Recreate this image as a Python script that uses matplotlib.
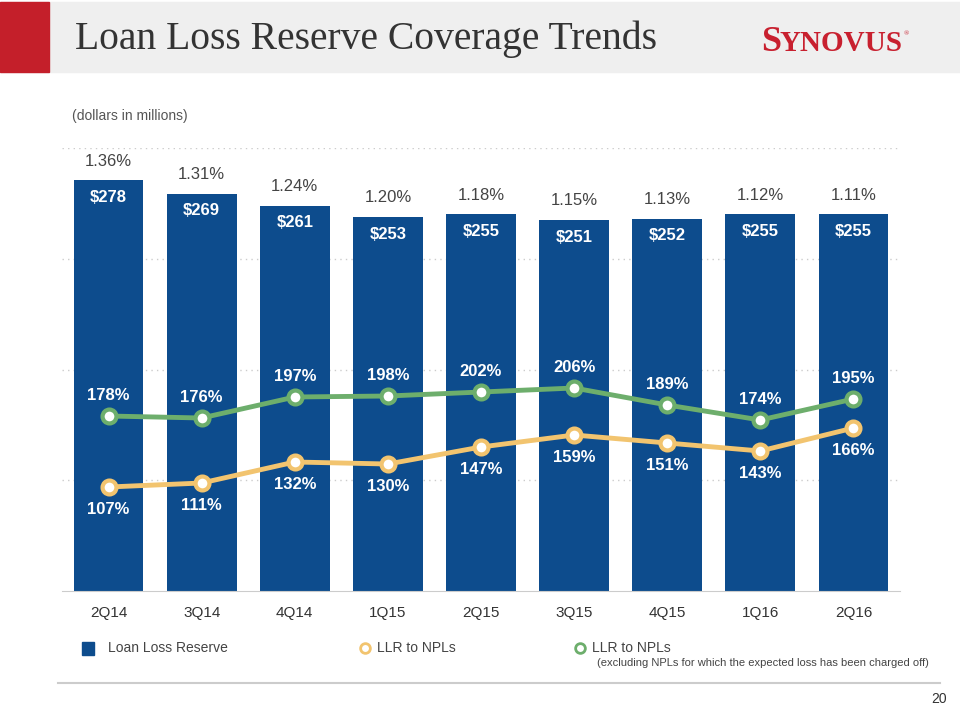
import matplotlib.pyplot as plt
from matplotlib.patches import Rectangle
from matplotlib.lines import Line2D

quarters = ["2Q14", "3Q14", "4Q14", "1Q15", "2Q15", "3Q15", "4Q15", "1Q16", "2Q16"]
reserve = [278, 269, 261, 253, 255, 251, 252, 255, 255]
reserve_pct = [1.36, 1.31, 1.24, 1.20, 1.18, 1.15, 1.13, 1.12, 1.11]
llr_npl = [107, 111, 132, 130, 147, 159, 151, 143, 166]
llr_npl_excl = [178, 176, 197, 198, 202, 206, 189, 174, 195]

blue = "#0D4C8D"
yellow = "#F2C46F"
green = "#6DAE6C"
grey_txt = "#444444"

plt.rcParams["font.family"] = ["Liberation Sans", "DejaVu Sans"]

W, H = 960, 720
fig = plt.figure(figsize=(9.6, 7.2), dpi=100)

def fx(px):
    return px / W

def fy(py):
    return 1 - py / H

# header band
fig.add_artist(Rectangle((0, fy(72)), 1, 70 / H, transform=fig.transFigure,
                         color="#efefef", zorder=0))
fig.add_artist(Rectangle((0, fy(72)), fx(49), 70 / H, transform=fig.transFigure,
                         color="#c41f2a", zorder=1))
fig.text(fx(75), fy(39), "Loan Loss Reserve Coverage Trends", family="Liberation Serif",
         fontsize=28.5, color="#333333", va="center", ha="left")

# logo: big S + smaller caps for the rest
logo_rest = fig.text(fx(903), fy(51), "YNOVUS", family="Liberation Serif", fontsize=21,
                     color="#c8202f", va="baseline", ha="right", fontweight="bold")
fig.text(fx(904), fy(35), "\u00ae", family="Liberation Serif", fontsize=5,
         color="#c8202f", va="baseline", ha="left")
fig.canvas.draw()
bb = logo_rest.get_window_extent()
fig.text(bb.x0 / W + 0.001, fy(51), "S", family="Liberation Serif", fontsize=26,
         color="#c8202f", va="baseline", ha="right", fontweight="bold")

fig.text(fx(72), fy(116), "(dollars in millions)", fontsize=10, color="#555555",
         va="center")

# main chart
ax = fig.add_axes([fx(62), fy(591), fx(900) - fx(62), (591 - 148) / H])
x = list(range(len(quarters)))
ax.bar(x, reserve, width=0.75, color=blue, zorder=2)
ax.set_xlim(-0.5, 8.5)
ax.set_ylim(0, 300)
ax.set_yticks([75, 150, 225, 300])
ax.yaxis.grid(True, linestyle=(0, (1, 3)), color="#cccccc", linewidth=1)
ax.set_axisbelow(True)
ax.set_xticks(x)
ax.set_xticklabels(quarters)
for s in ["left", "right", "top"]:
    ax.spines[s].set_visible(False)
ax.spines["bottom"].set_color("#cccccc")

for i, v in enumerate(reserve):
    ax.annotate("$%d" % v, (i, v), xytext=(0, -12), textcoords="offset points",
                ha="center", va="center", color="white", fontsize=12, fontweight="bold")
    ax.annotate("%.2f%%" % reserve_pct[i], (i, v), xytext=(0, 14), textcoords="offset points",
                ha="center", va="center", color=grey_txt, fontsize=12)

ax2 = ax.twinx()
ax2.set_ylim(3, 446)
ax2.axis("off")
ax.tick_params(axis="y", left=False, right=False, labelleft=False, labelright=False)
ax.tick_params(axis="x", bottom=False, labelsize=11, labelcolor="#333333", pad=7)

ax2.plot(x, llr_npl, color=yellow, linewidth=3.5, marker="o", markersize=10,
         markerfacecolor="white", markeredgecolor=yellow, markeredgewidth=3, zorder=3)
ax2.plot(x, llr_npl_excl, color=green, linewidth=3.5, marker="o", markersize=10,
         markerfacecolor="white", markeredgecolor=green, markeredgewidth=3, zorder=3)
for i in x:
    ax2.annotate("%d%%" % llr_npl[i], (i, llr_npl[i]), xytext=(0, -16), textcoords="offset points",
                 ha="center", va="center", color="white", fontsize=12, fontweight="bold")
    ax2.annotate("%d%%" % llr_npl_excl[i], (i, llr_npl_excl[i]), xytext=(0, 15),
                 textcoords="offset points", ha="center", va="center", color="white",
                 fontsize=12, fontweight="bold")

# legend
fig.add_artist(Rectangle((fx(82), fy(655)), fx(12), 13 / H, transform=fig.transFigure,
                         color=blue))
fig.text(fx(108), fy(648), "Loan Loss Reserve", fontsize=10, color=grey_txt, va="center")
fig.add_artist(Line2D([fx(365)], [fy(648)], transform=fig.transFigure, marker="o",
                      markersize=7, markerfacecolor="white", markeredgecolor=yellow,
                      markeredgewidth=2, linestyle="none"))
fig.text(fx(377), fy(648), "LLR to NPLs", fontsize=10, color=grey_txt, va="center")
fig.add_artist(Line2D([fx(580)], [fy(648)], transform=fig.transFigure, marker="o",
                      markersize=7, markerfacecolor="white", markeredgecolor=green,
                      markeredgewidth=2, linestyle="none"))
fig.text(fx(592), fy(648), "LLR to NPLs", fontsize=10, color=grey_txt, va="center")
fig.text(fx(597), fy(663),
         "(excluding NPLs for which the expected loss has been charged off)",
         fontsize=8, color=grey_txt, va="center")

fig.add_artist(Line2D([fx(58), fx(940)], [fy(683), fy(683)], transform=fig.transFigure,
                      color="#cccccc", linewidth=1.5))
fig.text(fx(947), fy(699), "20", fontsize=10, color="#333333", ha="right", va="center")

fig.savefig("out.png", dpi=100)
